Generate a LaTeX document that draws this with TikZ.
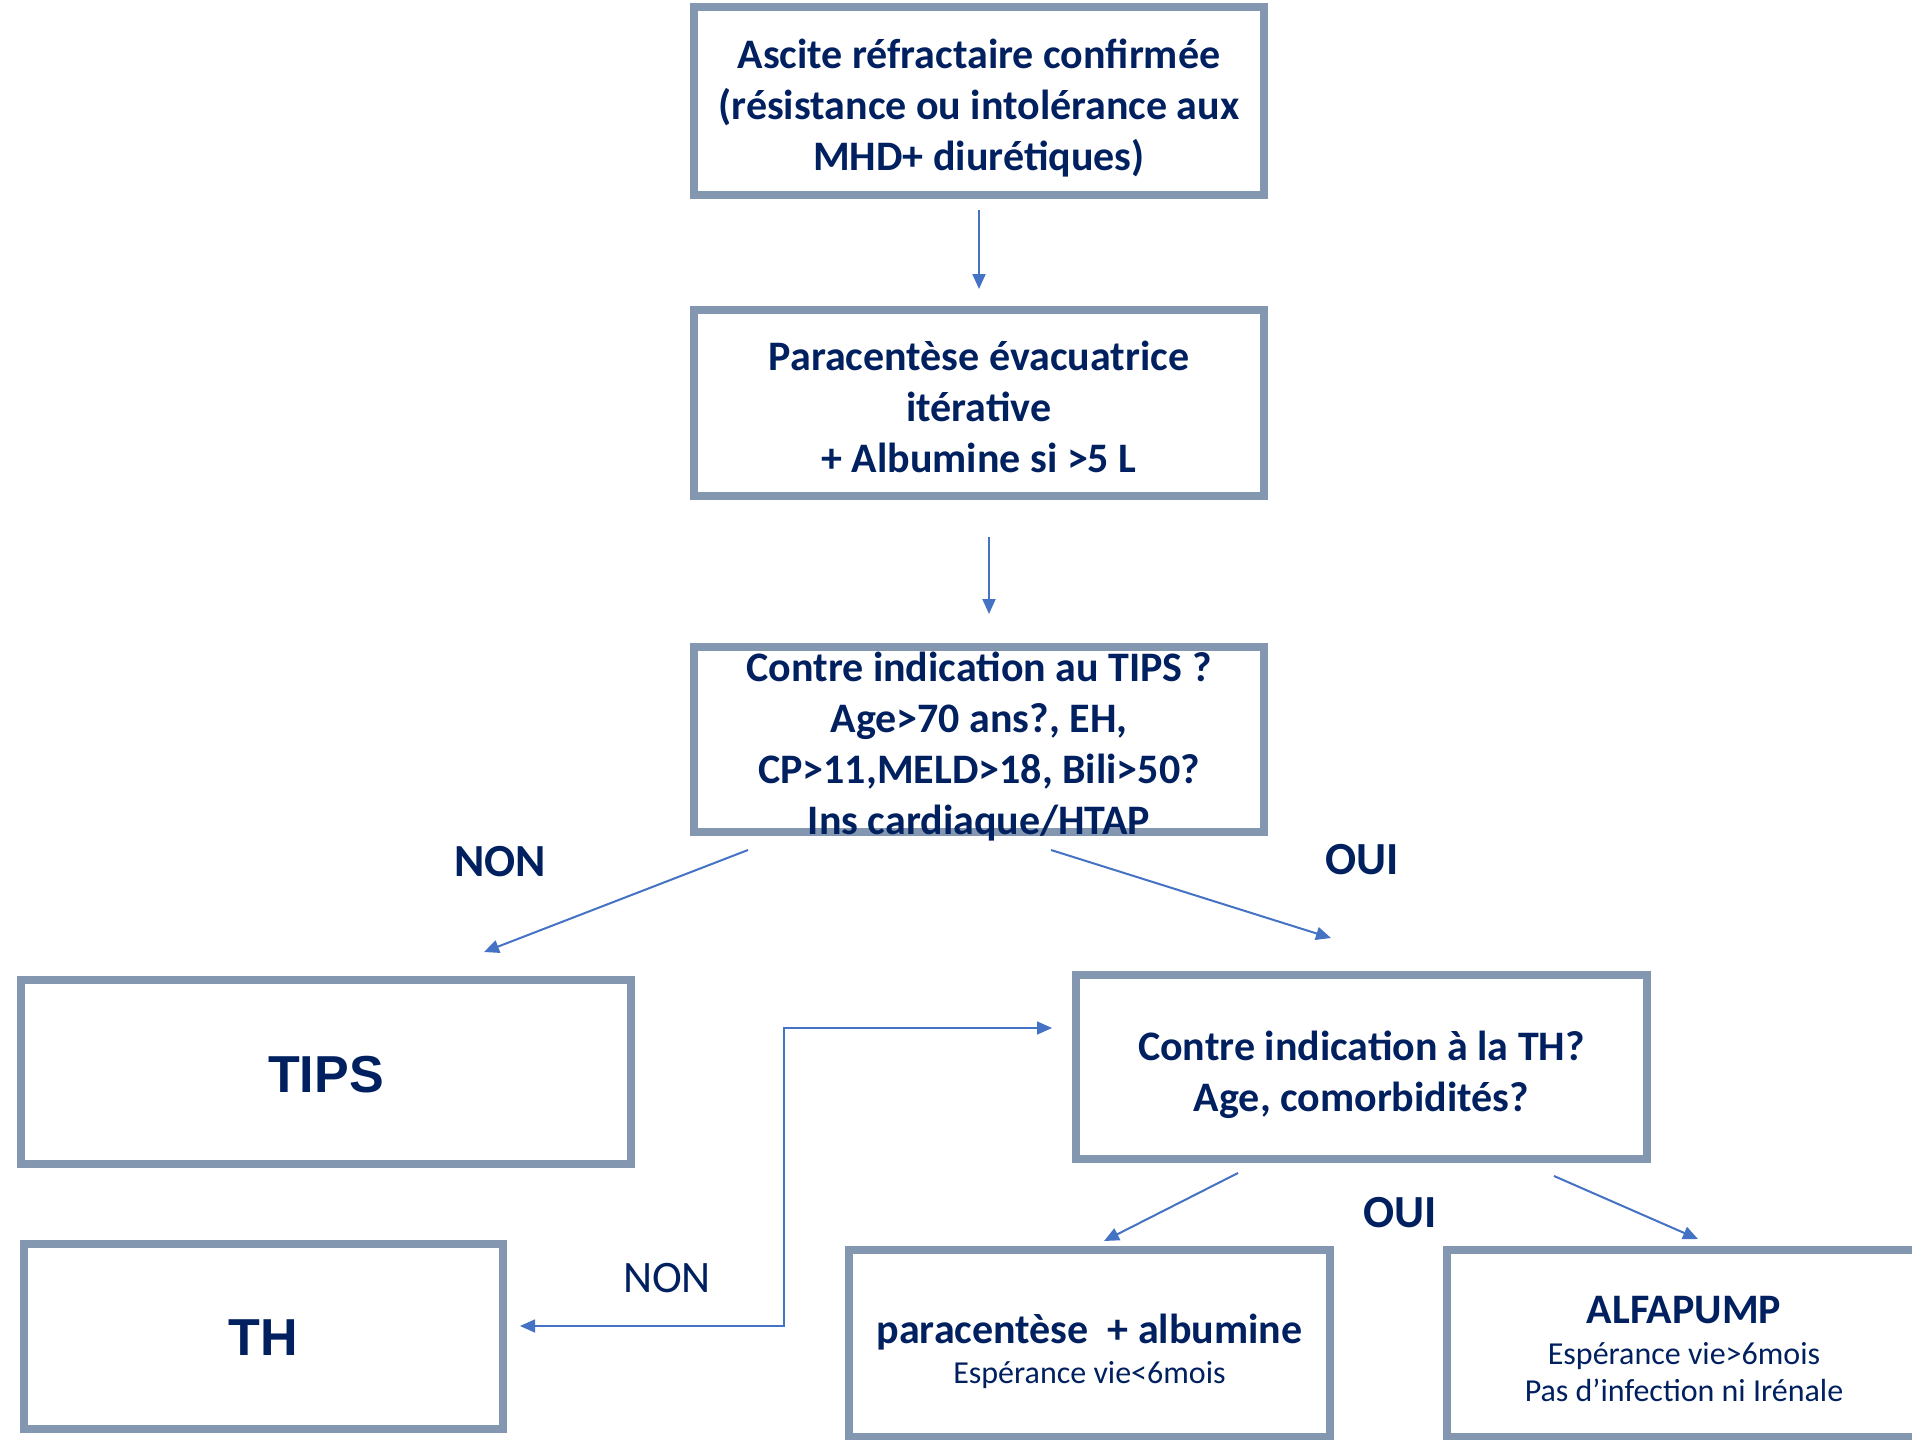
\documentclass[tikz,border=0pt]{standalone}
\usepackage{fontspec}
\setmainfont{Carlito}
\newfontfamily\arialb{Liberation Sans}
\usetikzlibrary{arrows.meta}
\definecolor{navy}{HTML}{002060}
\definecolor{framec}{HTML}{8497B0}
\definecolor{arrowblue}{HTML}{4472C4}
\begin{document}
\begin{tikzpicture}[x=1pt,y=-1pt,
  box/.style={draw=framec, line width=8pt, fill=white, inner sep=0pt},
  txt/.style={inner sep=0pt, align=center, text=navy, font=\fontsize{42}{51}\selectfont\bfseries},
  bigtxt/.style={txt, font=\fontsize{52}{60}\selectfont\arialb\bfseries},
  conn/.style={draw=arrowblue, line width=2pt, -{Triangle[length=15pt,width=13pt]}},
  elbow/.style={draw=arrowblue, line width=1.6pt, {Triangle[length=15pt,width=13pt]}-{Triangle[length=15pt,width=13pt]}},
  lbl/.style={text=navy, inner sep=0pt, font=\fontsize{46}{55}\selectfont\bfseries},
  lblthin/.style={text=navy, inner sep=0pt, font=\fontsize{45}{54}\selectfont},
]
\useasboundingbox (0,0) rectangle (1912,1440);
% frames
\node[box, minimum width=570pt, minimum height=188pt] (b1) at (979,101) {};
\node[box, minimum width=570pt, minimum height=186pt] (b2) at (979,403) {};
\node[box, minimum width=570pt, minimum height=185pt] (b3) at (979,739.5) {};
\node[box, minimum width=610pt, minimum height=184pt] (tips) at (326,1072) {};
\node[box, minimum width=571pt, minimum height=184pt] (b5) at (1361.5,1067) {};
\node[box, minimum width=479pt, minimum height=185pt] (th) at (263.5,1336.5) {};
\node[box, minimum width=481pt, minimum height=187pt] (b7) at (1089.5,1343.5) {};
\node[box, minimum width=474pt, minimum height=187pt] (b8) at (1684,1343.5) {};
% texts
\node[txt] (t1) at (979,108)
  {Ascite réfractaire confirmée\\(résistance ou intolérance aux\\MHD+ diurétiques)};
\node[txt] (t2) at (979,407)
  {Paracentèse évacuatrice\\itérative\\+ Albumine si >5 L};
\node[txt] (t3) at (979,747)
  {Contre indication au TIPS ?\\Age>70 ans?, EH,\\CP>11,MELD>18, Bili>50?\\Ins cardiaque/HTAP};
\node[bigtxt] (t4) at (326,1075) {TIPS};
\node[txt] (t5) at (1361.5,1075)
  {Contre indication à la TH?\\Age, comorbidités?};
\node[bigtxt] (t6) at (263.5,1338) {TH};
\node[txt] (t7) at (1089.5,1351)
  {paracentèse\ \ + albumine\\[-11pt]{\fontsize{32}{38}\selectfont\mdseries Espérance vie<6mois}};
\node[txt] (t8) at (1684,1348.5)
  {ALFAPUMP\\[-10pt]{\fontsize{32}{38}\selectfont\mdseries Espérance vie>6mois}\\[-14pt]{\fontsize{32}{38}\selectfont\mdseries Pas d’infection ni Irénale}};

\coordinate (a1s) at (979,210);  \coordinate (a1e) at (979,289);
\coordinate (a2s) at (989,537);  \coordinate (a2e) at (989,614);
\coordinate (a3s) at (748,850);  \coordinate (a3e) at (484,952);
\coordinate (a4s) at (1051,850); \coordinate (a4e) at (1331,938);
\coordinate (a5s) at (1238,1173); \coordinate (a5e) at (1104,1241);
\coordinate (a6s) at (1554,1176); \coordinate (a6e) at (1698,1239);
\coordinate (e1) at (1052,1028); \coordinate (e2) at (520,1326);

\draw[conn] (a1s) -- (a1e);
\draw[conn] (a2s) -- (a2e);
\draw[conn] (a3s) -- (a3e);
\draw[conn] (a4s) -- (a4e);
\draw[conn] (a5s) -- (a5e);
\draw[conn] (a6s) -- (a6e);
\draw[elbow] (e1) -- (784,1028) -- (784,1326) -- (e2);

\node[lbl] (non1) at (500,862) {NON};
\node[lbl] (oui1) at (1362,860) {OUI};
\node[lbl] (oui2) at (1400,1213) {OUI};
\node[lblthin] (non2) at (667,1278) {NON};
\end{tikzpicture}
\end{document}
